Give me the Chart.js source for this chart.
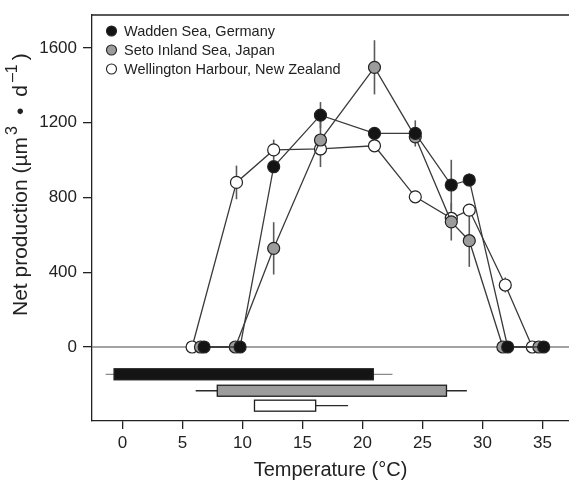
<!DOCTYPE html>
<html>
<head>
<meta charset="utf-8">
<script src="https://cdn.jsdelivr.net/npm/chart.js@4.4.1/dist/chart.umd.min.js"></script>
<style>
  body { margin: 0; background: #fff; }
</style>
</head>
<body>
<canvas id="myChart" width="569" height="480"></canvas>
<script>
//Series names
const seriesNames = [
  "Wadden Sea, Germany",
  "Seto Inland Sea, Japan",
  "Wellington Harbour, New Zealand",
];

//Wadden Sea (temperature, net production, error)
const waddenTemp = [6.8, 9.8, 12.6, 16.5, 21.0, 24.4, 27.4, 28.9, 32.1, 35.1];
const waddenProd = [0, 0, 965, 1241, 1143, 1143, 867, 894, 0, 0];
const waddenErr = [0, 0, 0, 70, 0, 70, 135, 35, 0, 0];

//Seto Inland Sea
const setoTemp = [6.5, 9.4, 12.6, 16.5, 21.0, 24.4, 27.4, 28.9, 31.7, 34.7];
const setoProd = [0, 0, 528, 1108, 1497, 1125, 670, 569, 0, 0];
const setoErr = [0, 0, 140, 145, 145, 0, 100, 140, 0, 0];

//Wellington Harbour
const wellTemp = [5.8, 9.5, 12.6, 16.5, 21.0, 24.4, 27.4, 28.9, 31.9, 34.15];
const wellProd = [0, 881, 1055, 1060, 1077, 804, 689, 733, 332, 0];
const wellErr = [0, 90, 55, 0, 0, 0, 0, 0, 40, 0];

//Temperature ranges per site (whisker low, box low, box high, whisker high)
const rangeMin = [-1.4, 6.1, 11.0];
const rangeBoxLow = [-0.7, 7.9, 11.0];
const rangeBoxHigh = [20.9, 27.0, 16.1];
const rangeMax = [22.5, 28.7, 18.8];

//Tick labels
const xTicks = [0, 5, 10, 15, 20, 25, 30, 35];
const yTicks = [0, 400, 800, 1200, 1600];

const FONT = "'Liberation Sans', Arial, Helvetica, sans-serif";
const fills = ["#141414", "#9c9c9c", "#ffffff"];

const toPoints = (xs, ys) => xs.map((x, i) => ({ x: x, y: ys[i] }));

const makeSet = (i, xs, ys, errs) => ({
  label: seriesNames[i],
  data: toPoints(xs, ys),
  errors: errs,
  borderColor: "#3a3a3a",
  borderWidth: 1.3,
  pointRadius: 6,
  pointHoverRadius: 6,
  pointBackgroundColor: fills[i],
  pointBorderColor: "#222",
  pointBorderWidth: 1.2,
  tension: 0,
  showLine: true,
});

//zero line + top frame line
const framePlugin = {
  id: "frame",
  beforeDatasetsDraw(chart) {
    const { ctx, chartArea, scales } = chart;
    const y0 = scales.y.getPixelForValue(0);
    ctx.save();
    ctx.strokeStyle = "#858585";
    ctx.lineWidth = 1.6;
    ctx.beginPath();
    ctx.moveTo(chartArea.left, y0);
    ctx.lineTo(chartArea.right, y0);
    ctx.stroke();
    ctx.strokeStyle = "#222";
    ctx.lineWidth = 1.3;
    ctx.beginPath();
    ctx.moveTo(chartArea.left, chartArea.top);
    ctx.lineTo(chartArea.right, chartArea.top);
    ctx.stroke();
    ctx.restore();
  },
};

//vertical error bars behind the points
const errorPlugin = {
  id: "errorBars",
  beforeDatasetsDraw(chart) {
    const { ctx, scales } = chart;
    ctx.save();
    ctx.strokeStyle = "#5a5a5a";
    ctx.lineWidth = 1.6;
    chart.data.datasets.forEach((ds) => {
      ds.data.forEach((p, i) => {
        const e = ds.errors[i];
        if (!e) return;
        const px = scales.x.getPixelForValue(p.x);
        ctx.beginPath();
        ctx.moveTo(px, scales.y.getPixelForValue(p.y - e));
        ctx.lineTo(px, scales.y.getPixelForValue(p.y + e));
        ctx.stroke();
      });
    });
    ctx.restore();
  },
};

//temperature range boxes under the zero line
const rangePlugin = {
  id: "ranges",
  afterDatasetsDraw(chart, args, opts) {
    const { ctx, scales } = chart;
    const x = scales.x;
    ctx.save();
    opts.rows.forEach((row, i) => {
      const cy = scales.y.getPixelForValue(row);
      ctx.strokeStyle = opts.whiskerColors[i];
      ctx.lineWidth = 1.3;
      ctx.beginPath();
      ctx.moveTo(x.getPixelForValue(rangeMin[i]), cy);
      ctx.lineTo(x.getPixelForValue(rangeMax[i]), cy);
      ctx.stroke();
      const l = x.getPixelForValue(rangeBoxLow[i]);
      const r = x.getPixelForValue(rangeBoxHigh[i]);
      ctx.fillStyle = fills[i];
      ctx.fillRect(l, cy - opts.half, r - l, opts.half * 2);
      ctx.strokeStyle = "#1e1e1e";
      ctx.lineWidth = 1.3;
      ctx.strokeRect(l, cy - opts.half, r - l, opts.half * 2);
    });
    ctx.restore();
  },
};

//writes a run of text pieces, some raised as superscripts
const drawRun = (ctx, parts, x, y) => {
  let cx = x;
  parts.forEach((p) => {
    ctx.font = (p.sup ? "16px " : "21px ") + FONT;
    ctx.fillText(p.t, cx, p.sup ? y - 8 : y);
    cx += ctx.measureText(p.t).width + (p.gap || 0);
  });
  return cx;
};

//legend in the top left corner and the axis titles
const labelPlugin = {
  id: "labels",
  afterDraw(chart) {
    const { ctx, chartArea } = chart;
    ctx.save();
    ctx.font = "14.5px " + FONT;
    ctx.textBaseline = "middle";
    chart.data.datasets.forEach((ds, i) => {
      const cy = 31 + i * 19;
      ctx.beginPath();
      ctx.arc(111.5, cy, 5, 0, Math.PI * 2);
      ctx.fillStyle = fills[i];
      ctx.fill();
      ctx.strokeStyle = "#222";
      ctx.lineWidth = 1.1;
      ctx.stroke();
      ctx.fillStyle = "#222";
      ctx.fillText(ds.label, 124, cy + 0.5);
    });

    ctx.font = "20px " + FONT;
    ctx.textAlign = "center";
    ctx.fillStyle = "#222";
    ctx.fillText("Temperature (°C)", (chartArea.left + chartArea.right) / 2, 470);

    ctx.textAlign = "left";
    ctx.translate(21, 316);
    ctx.rotate(-Math.PI / 2);
    drawRun(ctx, [
      { t: "Net production (µm", gap: 2 },
      { t: "3", sup: true, gap: 11 },
      { t: "•", gap: 11 },
      { t: "d", gap: 3 },
      { t: "–1", sup: true, gap: 4 },
      { t: ")" },
    ], 0, 0);
    ctx.restore();
  },
};

var ctx = document.getElementById("myChart").getContext("2d");
var chart = new Chart(ctx, {
  type: "scatter",
  data: {
    datasets: [
      makeSet(0, waddenTemp, waddenProd, waddenErr),
      makeSet(1, setoTemp, setoProd, setoErr),
      makeSet(2, wellTemp, wellProd, wellErr),
    ],
  },
  options: {
    responsive: false,
    animation: false,
    layout: { autoPadding: false, padding: { top: 15, right: 0, left: 0, bottom: 0 } },
    plugins: {
      legend: { display: false },
      tooltip: { enabled: false },
      ranges: {
        rows: [-146, -234, -314],
        half: 5.5,
        whiskerColors: ["#8a8a8a", "#2a2a2a", "#2a2a2a"],
      },
    },
    scales: {
      x: {
        type: "linear",
        min: -2.54,
        max: 37.21,
        afterFit: (s) => {
          s.height = 59;
          s.paddingLeft = 0;
          s.paddingRight = 0;
        },
        afterBuildTicks: (s) => { s.ticks = xTicks.map((v) => ({ value: v })); },
        grid: { drawOnChartArea: false, drawTicks: true, tickLength: 8, color: "#222", lineWidth: 1.3 },
        border: { display: true, color: "#222", width: 1.3 },
        ticks: { color: "#222", padding: 4, font: { family: FONT, size: 17 }, callback: (v) => String(v) },
      },
      y: {
        type: "linear",
        min: -396,
        max: 1777,
        afterFit: (s) => {
          s.width = 92;
          s.paddingTop = 0;
          s.paddingBottom = 0;
        },
        afterBuildTicks: (s) => { s.ticks = yTicks.map((v) => ({ value: v })); },
        grid: { drawOnChartArea: false, drawTicks: true, tickLength: 9, color: "#222", lineWidth: 1.3 },
        border: { display: true, color: "#222", width: 1.3 },
        ticks: { color: "#222", padding: 6, font: { family: FONT, size: 17 }, callback: (v) => String(v) },
      },
    },
  },
  plugins: [framePlugin, errorPlugin, rangePlugin, labelPlugin],
});
</script>
</body>
</html>
